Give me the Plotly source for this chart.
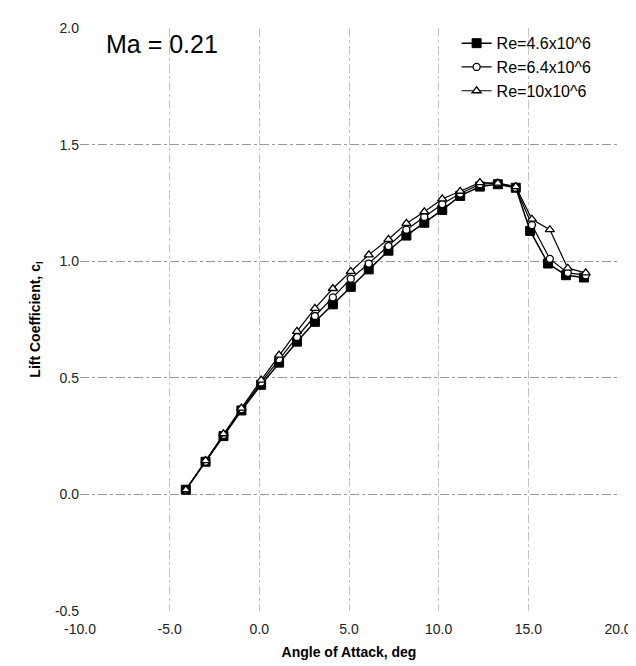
import plotly.graph_objects as go

# Angle of attack, deg
alpha_46 = [-4.1, -3.0, -2.0, -1.0, 0.1, 1.1, 2.1, 3.1, 4.1, 5.1, 6.1, 7.2, 8.2, 9.2, 10.2, 11.2, 12.3, 13.3, 14.3, 15.1, 16.1, 17.1, 18.1]
cl_46 = [0.02, 0.14, 0.25, 0.36, 0.47, 0.565, 0.655, 0.74, 0.815, 0.89, 0.965, 1.045, 1.11, 1.165, 1.22, 1.28, 1.32, 1.33, 1.315, 1.13, 0.99, 0.94, 0.93]

alpha_64 = [-4.1, -3.0, -2.0, -1.0, 0.1, 1.1, 2.1, 3.1, 4.1, 5.1, 6.1, 7.2, 8.2, 9.2, 10.2, 11.2, 12.3, 13.3, 14.3, 15.2, 16.2, 17.2, 18.2]
cl_64 = [0.02, 0.14, 0.255, 0.365, 0.48, 0.58, 0.675, 0.765, 0.845, 0.925, 0.99, 1.065, 1.135, 1.19, 1.245, 1.29, 1.33, 1.335, 1.315, 1.155, 1.01, 0.95, 0.94]

alpha_10 = [-4.1, -3.0, -2.0, -1.0, 0.1, 1.1, 2.1, 3.1, 4.1, 5.1, 6.1, 7.2, 8.2, 9.2, 10.2, 11.2, 12.3, 13.3, 14.3, 15.2, 16.2, 17.2, 18.2]
cl_10 = [0.02, 0.145, 0.26, 0.37, 0.49, 0.597, 0.699, 0.798, 0.883, 0.956, 1.027, 1.094, 1.162, 1.212, 1.267, 1.30, 1.337, 1.335, 1.32, 1.18, 1.135, 0.97, 0.95]

x_ticks = [-10, -5, 0, 5, 10, 15, 20]
y_ticks = [-0.5, 0.0, 0.5, 1.0, 1.5, 2.0]

FONT = "Liberation Sans, Arial, sans-serif"

fig = go.Figure()
fig.add_trace(go.Scatter(
    x=alpha_46, y=cl_46, mode="lines+markers", name="Re=4.6x10^6",
    line=dict(color="black", width=1.5),
    marker=dict(symbol="square", size=9, color="black", line=dict(color="black", width=1)),
))
fig.add_trace(go.Scatter(
    x=alpha_64, y=cl_64, mode="lines+markers", name="Re=6.4x10^6",
    line=dict(color="black", width=1.2),
    marker=dict(symbol="circle", size=7, color="white", line=dict(color="black", width=1.3)),
))
fig.add_trace(go.Scatter(
    x=alpha_10, y=cl_10, mode="lines+markers", name="Re=10x10^6",
    line=dict(color="black", width=1.2),
    marker=dict(symbol="triangle-up", size=8, color="white", line=dict(color="black", width=1.3)),
))

fig.add_annotation(
    x=0.045, y=0.972, xref="paper", yref="paper", xanchor="left", yanchor="middle",
    text="Ma = 0.21", showarrow=False, font=dict(family=FONT, size=25, color="black"),
)

fig.update_layout(
    width=636, height=666,
    margin=dict(l=72, r=15, t=13, b=63),
    paper_bgcolor="white", plot_bgcolor="white",
    font=dict(family=FONT, color="black"),
    legend=dict(
        x=0.70, y=1.003, xanchor="left", yanchor="top",
        font=dict(family=FONT, size=16, color="black"),
        bgcolor="rgba(0,0,0,0)", tracegroupgap=0, itemwidth=30,
    ),
    showlegend=True,
)
fig.update_xaxes(
    range=[-10, 20], tickvals=x_ticks, ticktext=[f"{v:.1f}" for v in x_ticks],
    tickfont=dict(family=FONT, size=14, color="#222"),
    title=dict(text="<b>Angle of Attack, deg</b>", font=dict(family=FONT, size=14, color="black"), standoff=11),
    showgrid=True, gridcolor="#c4c4c4", griddash="dashdot", gridwidth=1,
    zeroline=False, showline=False, ticks="outside", ticklen=5, tickcolor="white",
)
fig.update_yaxes(
    range=[-0.5, 2.0], tickvals=y_ticks, ticktext=[f"{v:.1f}" for v in y_ticks],
    tickfont=dict(family=FONT, size=14, color="#222"),
    title=dict(text="<b>Lift Coefficient, c<sub>l</sub></b>", font=dict(family=FONT, size=14, color="black"), standoff=10),
    showgrid=True, gridcolor="#9a9a9a", griddash="dashdot", gridwidth=1,
    zeroline=False, showline=False, ticks="",
)

fig.write_html("out.html")
